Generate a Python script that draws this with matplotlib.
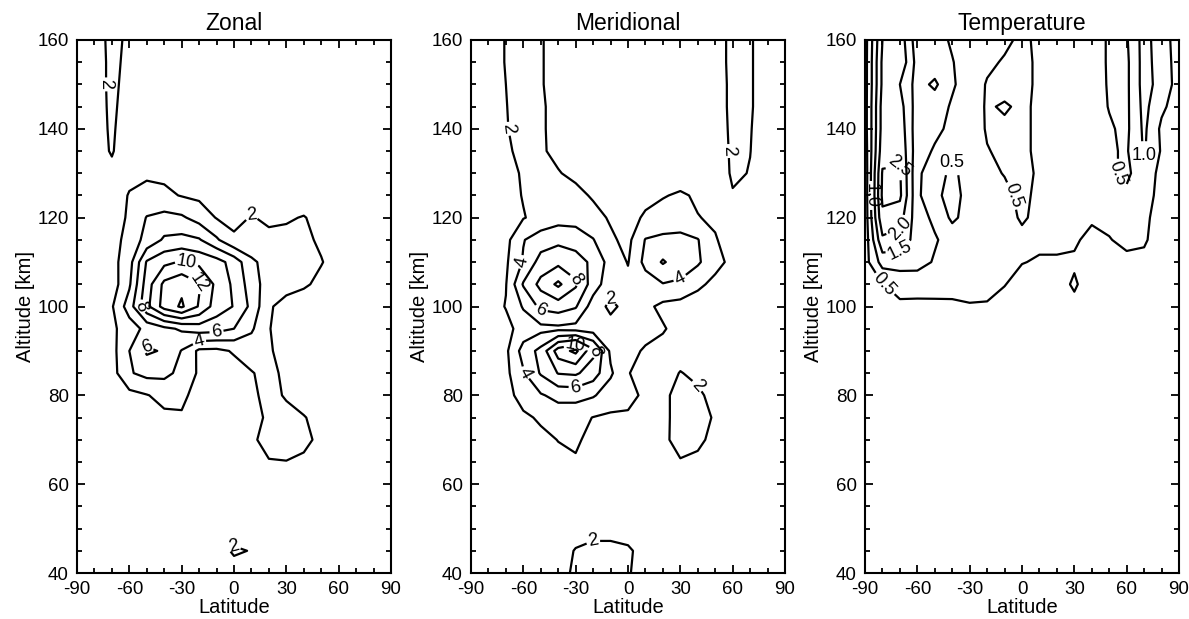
import matplotlib
matplotlib.use("Agg")
import matplotlib.pyplot as plt
from matplotlib.ticker import MultipleLocator
import numpy as np

plt.rcParams['font.family'] = ['Liberation Sans', 'DejaVu Sans']
plt.rcParams['axes.unicode_minus'] = False

lat = np.arange(-90, 91, 10)
alt = np.arange(40, 161, 5)

# values, rows from 160 km down to 40 km, columns -90..90 deg
zonal_rows = [
    [0.5, 1.0, 2.6, 1.6, 1.0, 0.8, 0.8, 0.8, 0.8, 0.8, 0.8, 0.8, 0.8, 0.8, 0.8, 0.8, 0.8, 0.8, 0.8],  # 160
    [0.5, 1.0, 2.5, 1.5, 1.0, 0.8, 0.8, 0.8, 0.8, 0.8, 0.8, 0.8, 0.8, 0.8, 0.8, 0.8, 0.8, 0.8, 0.8],  # 155
    [0.5, 1.2, 2.4, 1.4, 1.0, 0.8, 0.8, 0.8, 0.8, 0.8, 0.8, 0.8, 0.8, 0.8, 0.8, 0.8, 0.8, 0.8, 0.8],  # 150
    [0.5, 1.3, 2.3, 1.3, 1.0, 0.8, 0.8, 0.8, 0.8, 0.8, 0.8, 0.8, 0.8, 0.8, 0.8, 0.8, 0.8, 0.8, 0.8],  # 145
    [0.5, 1.4, 2.2, 1.2, 1.0, 0.8, 0.8, 0.8, 0.8, 0.8, 0.8, 0.8, 0.8, 0.8, 0.8, 0.8, 0.8, 0.8, 0.8],  # 140
    [0.5, 1.5, 2.1, 1.2, 1.1, 1.0, 0.9, 0.8, 0.8, 0.8, 0.8, 0.8, 0.8, 0.8, 0.8, 0.8, 0.8, 0.8, 0.8],  # 135
    [0.5, 1.2, 1.7, 1.6, 1.7, 1.6, 1.4, 1.2, 1.0, 0.9, 0.9, 0.9, 0.9, 0.9, 0.8, 0.8, 0.8, 0.8, 0.8],  # 130
    [0.5, 0.8, 1.2, 2.1, 2.6, 2.4, 1.9, 1.6, 1.3, 1.1, 1.1, 1.0, 1.0, 1.0, 0.9, 0.8, 0.7, 0.6, 0.6],  # 125
    [0.5, 0.8, 1.0, 2.3, 4.1, 4.6, 4.3, 3.2, 1.9, 1.5, 2.1, 1.7, 1.8, 2.1, 1.4, 1.0, 0.8, 0.7, 0.6],  # 120
    [0.5, 0.8, 1.0, 2.9, 4.6, 6.3, 6.6, 6.2, 4.3, 2.3, 2.5, 2.4, 2.5, 2.4, 1.7, 1.0, 0.8, 0.7, 0.6],  # 115
    [0.5, 0.8, 1.3, 3.2, 8.2, 9.5, 10.2, 9.5, 8.8, 7.2, 4.4, 3.2, 3.0, 2.8, 2.1, 1.2, 0.8, 0.6, 0.5],  # 110
    [0.5, 0.8, 1.0, 3.7, 9.0, 12.5, 13.5, 12.2, 9.5, 7.6, 5.0, 3.0, 2.6, 2.3, 1.5, 1.0, 0.8, 0.6, 0.5],  # 105
    [0.3, 0.5, 1.8, 5.0, 9.5, 12.8, 14.3, 11.8, 9.0, 7.9, 5.5, 2.2, 1.4, 0.8, 0.5, 0.4, 0.3, 0.3, 0.3],  # 100
    [0.3, 0.8, 1.6, 3.0, 4.6, 5.5, 6.3, 7.0, 6.8, 6.0, 4.3, 2.1, 1.0, 0.8, 0.6, 0.5, 0.4, 0.3, 0.3],  # 95
    [0.3, 0.8, 1.3, 4.0, 6.3, 5.8, 3.9, 1.6, 1.5, 2.2, 2.8, 2.3, 1.0, 0.8, 0.6, 0.5, 0.4, 0.3, 0.3],  # 90
    [0.2, 0.5, 1.2, 3.8, 4.6, 4.5, 3.5, 1.7, 0.8, 1.2, 1.9, 2.5, 1.6, 0.9, 0.6, 0.5, 0.4, 0.3, 0.2],  # 85
    [0.2, 0.4, 0.8, 1.4, 1.9, 2.6, 2.4, 1.3, 0.6, 0.9, 1.6, 2.6, 1.8, 1.2, 0.7, 0.5, 0.4, 0.3, 0.2],  # 80
    [0.2, 0.3, 0.5, 0.8, 1.2, 1.6, 1.8, 0.9, 0.5, 0.6, 1.2, 2.4, 2.6, 2.1, 1.4, 0.8, 0.5, 0.3, 0.2],  # 75
    [0.2, 0.3, 0.4, 0.6, 0.8, 1.0, 1.1, 0.8, 0.6, 0.8, 1.7, 2.6, 2.8, 2.4, 1.6, 0.8, 0.5, 0.3, 0.2],  # 70
    [0.2, 0.3, 0.4, 0.5, 0.6, 0.7, 0.8, 0.8, 0.8, 1.0, 1.4, 1.9, 1.95, 1.7, 1.2, 0.7, 0.5, 0.3, 0.2],  # 65
    [0.2, 0.3, 0.4, 0.5, 0.5, 0.6, 0.6, 0.7, 0.8, 1.0, 1.2, 1.4, 1.4, 1.2, 0.9, 0.6, 0.4, 0.3, 0.2],  # 60
    [0.2, 0.3, 0.4, 0.5, 0.6, 0.7, 0.8, 0.9, 1.0, 1.1, 1.1, 1.1, 1.0, 0.9, 0.8, 0.6, 0.4, 0.3, 0.2],  # 55
    [0.2, 0.3, 0.4, 0.5, 0.6, 0.8, 0.9, 1.0, 1.2, 1.4, 1.3, 1.1, 1.0, 0.9, 0.8, 0.6, 0.4, 0.3, 0.2],  # 50
    [0.2, 0.3, 0.4, 0.5, 0.6, 0.8, 0.9, 1.1, 1.5, 2.15, 1.95, 1.2, 1.0, 0.9, 0.8, 0.6, 0.4, 0.3, 0.2],  # 45
    [0.2, 0.3, 0.4, 0.5, 0.6, 0.8, 0.9, 1.0, 1.2, 1.5, 1.4, 1.1, 1.0, 0.9, 0.8, 0.6, 0.4, 0.3, 0.2],  # 40
]

merid_rows = [
    [1.0, 1.5, 2.05, 2.6, 2.1, 1.5, 1.2, 1.0, 1.0, 1.0, 1.0, 1.0, 1.0, 1.0, 1.0, 2.6, 2.1, 1.5, 1.2],  # 160
    [1.0, 1.5, 2.05, 2.6, 2.1, 1.5, 1.2, 1.0, 1.0, 1.0, 1.0, 1.0, 1.0, 1.0, 1.0, 2.6, 2.1, 1.5, 1.2],  # 155
    [1.0, 1.5, 2.0, 2.6, 2.1, 1.5, 1.2, 1.0, 1.0, 1.0, 1.0, 1.0, 1.0, 1.0, 1.0, 2.5, 2.1, 1.5, 1.2],  # 150
    [1.0, 1.5, 1.95, 2.6, 2.2, 1.5, 1.2, 1.0, 1.0, 1.0, 1.0, 1.0, 1.0, 1.0, 1.0, 2.5, 2.1, 1.5, 1.2],  # 145
    [1.0, 1.4, 1.9, 2.6, 2.2, 1.5, 1.2, 1.0, 1.0, 1.0, 1.0, 1.0, 1.0, 1.0, 1.0, 2.4, 2.05, 1.5, 1.2],  # 140
    [1.0, 1.3, 1.7, 2.5, 2.2, 1.6, 1.2, 1.0, 1.0, 1.0, 1.0, 1.0, 1.0, 1.0, 1.0, 2.3, 2.02, 1.4, 1.1],  # 135
    [1.0, 1.2, 1.4, 2.2, 2.4, 2.1, 1.6, 1.3, 1.1, 1.0, 1.0, 1.1, 1.2, 1.2, 1.1, 2.2, 1.95, 1.4, 1.1],  # 130
    [1.0, 1.1, 1.3, 2.1, 2.6, 2.8, 2.5, 1.8, 1.3, 1.2, 1.6, 1.9, 2.2, 1.8, 1.5, 1.9, 1.6, 1.3, 1.0],  # 125
    [1.0, 1.2, 1.5, 1.9, 2.6, 3.2, 3.3, 2.6, 1.8, 1.5, 2.2, 2.6, 2.8, 2.05, 1.8, 1.8, 1.5, 1.2, 1.0],  # 120
    [1.0, 1.2, 1.4, 3.9, 5.0, 5.5, 5.0, 4.1, 2.3, 1.5, 4.1, 4.5, 4.6, 4.1, 2.1, 1.4, 1.2, 1.0, 1.0],  # 115
    [0.8, 1.0, 1.7, 4.2, 6.8, 7.5, 7.0, 5.5, 3.2, 1.9, 4.6, 6.2, 5.0, 4.3, 2.6, 1.5, 1.2, 1.0, 0.8],  # 110
    [0.8, 1.0, 1.9, 6.2, 8.6, 10.4, 8.3, 5.0, 2.8, 2.5, 3.0, 3.9, 3.7, 2.4, 1.5, 1.2, 1.0, 0.9, 0.8],  # 105
    [0.6, 1.0, 2.1, 4.2, 6.5, 7.0, 6.2, 3.0, 1.6, 2.6, 2.5, 1.5, 1.2, 1.0, 0.9, 0.8, 0.8, 0.7, 0.6],  # 100
    [0.5, 0.8, 1.4, 2.8, 3.4, 3.5, 3.3, 3.0, 2.7, 2.6, 2.6, 2.2, 1.2, 0.9, 0.8, 0.7, 0.7, 0.6, 0.5],  # 95
    [0.5, 0.8, 1.6, 4.8, 6.6, 11.0, 12.5, 8.5, 3.6, 2.5, 1.8, 1.3, 1.0, 0.9, 0.8, 0.7, 0.7, 0.6, 0.5],  # 90
    [0.4, 0.7, 1.5, 3.8, 6.2, 8.1, 8.3, 7.0, 4.3, 2.1, 1.2, 1.0, 2.1, 1.5, 0.8, 0.7, 0.6, 0.5, 0.4],  # 85
    [0.3, 0.6, 1.2, 2.9, 3.8, 4.6, 4.7, 4.2, 3.0, 2.6, 1.6, 1.6, 2.6, 2.4, 1.3, 0.8, 0.6, 0.5, 0.4],  # 80
    [0.3, 0.5, 0.9, 1.6, 2.3, 2.8, 2.6, 1.95, 1.7, 1.7, 1.5, 1.6, 2.6, 2.7, 1.8, 0.8, 0.6, 0.5, 0.4],  # 75
    [0.3, 0.4, 0.7, 1.0, 1.5, 2.05, 2.3, 1.4, 1.1, 1.0, 1.1, 1.7, 2.5, 2.3, 1.6, 0.8, 0.6, 0.5, 0.4],  # 70
    [0.3, 0.4, 0.6, 0.8, 1.1, 1.5, 1.8, 1.2, 1.0, 1.0, 1.0, 1.4, 1.9, 1.7, 1.2, 0.7, 0.5, 0.4, 0.3],  # 65
    [0.3, 0.4, 0.5, 0.7, 0.9, 1.0, 1.1, 1.0, 0.9, 0.9, 0.9, 1.0, 1.1, 1.0, 0.9, 0.7, 0.5, 0.4, 0.3],  # 60
    [0.3, 0.4, 0.5, 0.7, 0.8, 0.9, 1.0, 1.0, 0.9, 0.9, 0.8, 0.8, 0.8, 0.8, 0.7, 0.6, 0.5, 0.4, 0.3],  # 55
    [0.4, 0.5, 0.6, 0.8, 0.9, 1.0, 1.3, 1.5, 1.5, 1.4, 1.1, 0.9, 0.8, 0.7, 0.6, 0.5, 0.5, 0.4, 0.3],  # 50
    [0.5, 0.6, 0.8, 1.0, 1.2, 1.3, 2.1, 2.4, 2.4, 2.2, 1.5, 1.0, 0.8, 0.7, 0.6, 0.5, 0.5, 0.4, 0.3],  # 45
    [0.5, 0.6, 0.8, 1.0, 1.2, 1.4, 2.3, 2.5, 2.4, 2.1, 1.5, 1.0, 0.8, 0.7, 0.6, 0.5, 0.5, 0.4, 0.3],  # 40
]

temp_rows = [
    [0.3, 2.0, 2.3, 1.2, 1.15, 0.95, 0.8, 0.7, 0.6, 0.4, 0.6, 0.7, 0.8, 0.7, 0.45, 0.45, 1.2, 0.7, 0.3],  # 160
    [0.3, 2.1, 2.4, 1.3, 1.2, 1.02, 0.8, 0.6, 0.45, 0.35, 0.6, 0.7, 0.8, 0.7, 0.45, 0.4, 1.2, 0.75, 0.3],  # 155
    [0.3, 2.1, 2.0, 1.3, 1.6, 1.05, 0.8, 0.46, 0.3, 0.35, 0.6, 0.7, 0.8, 0.75, 0.45, 0.4, 1.2, 0.8, 0.3],  # 150
    [0.3, 2.2, 2.2, 1.25, 1.2, 0.95, 0.8, 0.44, 0.56, 0.4, 0.6, 0.7, 0.8, 0.7, 0.48, 0.4, 1.15, 0.6, 0.25],  # 145
    [0.3, 2.2, 2.3, 1.2, 1.1, 0.9, 0.75, 0.46, 0.4, 0.4, 0.6, 0.7, 0.75, 0.7, 0.55, 0.4, 1.1, 0.4, 0.2],  # 140
    [0.25, 2.3, 2.4, 1.2, 0.95, 0.6, 0.75, 0.52, 0.42, 0.4, 0.6, 0.7, 0.75, 0.7, 0.55, 0.45, 1.05, 0.45, 0.2],  # 135
    [0.2, 2.55, 2.55, 1.1, 0.7, 0.4, 0.7, 0.6, 0.48, 0.3, 0.6, 0.7, 0.7, 0.7, 0.6, 0.4, 0.8, 0.35, 0.2],  # 130
    [0.2, 2.6, 2.6, 1.1, 0.6, 0.35, 0.65, 0.7, 0.6, 0.4, 0.6, 0.7, 0.7, 0.7, 0.7, 0.6, 0.75, 0.3, 0.2],  # 125
    [0.2, 2.4, 2.2, 1.2, 0.9, 0.4, 0.7, 0.7, 0.65, 0.45, 0.6, 0.6, 0.55, 0.55, 0.6, 0.6, 0.6, 0.3, 0.2],  # 120
    [0.2, 1.9, 1.8, 1.3, 1.05, 0.8, 0.7, 0.7, 0.7, 0.6, 0.6, 0.6, 0.55, 0.4, 0.48, 0.6, 0.55, 0.3, 0.2],  # 115
    [0.3, 1.2, 1.2, 1.2, 0.95, 0.8, 0.75, 0.7, 0.65, 0.52, 0.45, 0.45, 0.45, 0.35, 0.35, 0.4, 0.4, 0.2, 0.1],  # 110
    [0.2, 0.48, 0.7, 0.68, 0.65, 0.6, 0.6, 0.6, 0.52, 0.3, 0.3, 0.35, 0.55, 0.3, 0.25, 0.25, 0.2, 0.15, 0.1],  # 105
    [0.1, 0.3, 0.4, 0.4, 0.42, 0.45, 0.48, 0.47, 0.3, 0.2, 0.2, 0.25, 0.4, 0.2, 0.15, 0.15, 0.1, 0.1, 0.1],  # 100
] + [[0.2] * 19 for _ in range(12)]  # 95 .. 40 km: below every level

panels = [
    ("Zonal", zonal_rows, [2, 4, 6, 8, 10, 12, 14], "%d"),
    ("Meridional", merid_rows, [2, 4, 6, 8, 10, 12], "%d"),
    ("Temperature", temp_rows, [0.5, 1.0, 1.5, 2.0, 2.5], "%.1f"),
]
lefts = [77, 471, 865]

fig = plt.figure(figsize=(11.89, 6.19), dpi=100)

for (title, rows, levels, fmt), left in zip(panels, lefts):
    ax = fig.add_axes([left / 1189, 1 - 573 / 619, 314 / 1189, 533 / 619])
    z = np.array(rows)[::-1]
    cs = ax.contour(lat, alt, z, levels=levels, colors='black', linewidths=1.6)
    ax.clabel(cs, fmt=fmt, fontsize=13, inline=True, inline_spacing=2)

    ax.set_xlim(-90, 90)
    ax.set_ylim(40, 160)
    ax.set_xticks([-90, -60, -30, 0, 30, 60, 90])
    ax.set_yticks([40, 60, 80, 100, 120, 140, 160])
    ax.xaxis.set_minor_locator(MultipleLocator(10))
    ax.yaxis.set_minor_locator(MultipleLocator(5))
    ax.tick_params(which='both', direction='in', top=True, right=True, width=1.3)
    ax.tick_params(which='major', length=6, labelsize=13.5, pad=6)
    ax.tick_params(which='minor', length=3.5)
    for sp in ax.spines.values():
        sp.set_linewidth(1.5)

    ax.set_title(title, fontsize=16.5, pad=7)
    ax.set_xlabel("Latitude", fontsize=14.5, labelpad=0)
    ax.set_ylabel("Altitude [km]", fontsize=14.5, labelpad=2)

fig.savefig("out.png", dpi=100)
